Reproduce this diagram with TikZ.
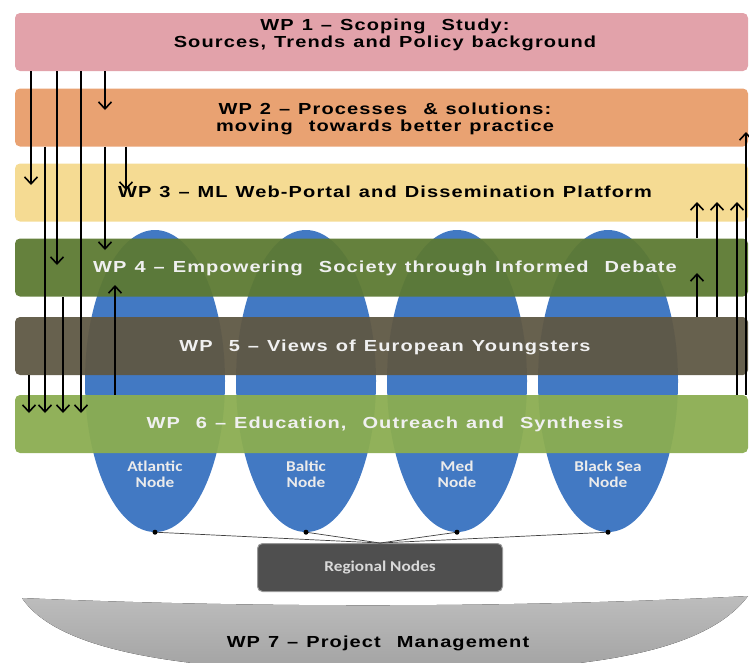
\documentclass[tikz,border=0pt]{standalone}
\usepackage{fontspec}
\usepackage{tikz}
\usetikzlibrary{arrows.meta,shapes.geometric}
\newfontfamily\wpfont{Liberation Sans}[FakeStretch=1.25,LetterSpace=7,WordSpace=1.2]
\newfontfamily\lblfont{Carlito}[FakeStretch=1.15]
\definecolor{wpone}{HTML}{E2A2AA}
\definecolor{wptwo}{HTML}{E9A272}
\definecolor{wpthree}{HTML}{F5DB93}
\definecolor{wpfour}{HTML}{5D7A33}
\definecolor{wpfive}{HTML}{5F5844}
\definecolor{wpsix}{HTML}{8BAD51}
\definecolor{seablue}{HTML}{4279C3}
\definecolor{regdark}{HTML}{4F4F4F}
\definecolor{mgmtlight}{HTML}{BDBDBD}
\definecolor{mgmtdark}{HTML}{A2A2A2}
\tikzset{
  band/.style={rectangle,rounded corners=5pt,minimum width=733pt,minimum height=58pt,inner sep=0pt},
  wptext/.style={font=\wpfont\bfseries\fontsize{16}{17}\selectfont,align=center,inner sep=0pt},
  sea/.style={ellipse,fill=seablue,minimum width=140pt,minimum height=302pt,inner sep=0pt},
  sealabel/.style={font=\lblfont\bfseries\fontsize{15}{16}\selectfont,text=white!92!black,align=center,inner sep=0pt},
  regbox/.style={rectangle,rounded corners=5pt,fill=regdark,draw=gray!80,line width=1pt,minimum width=245pt,minimum height=48pt,
    font=\lblfont\bfseries\fontsize{15}{16}\selectfont,text=white!85!black},
  link/.style={line width=0.7pt,black!75},
  arr/.style={-{Straight Barb[length=7pt,width=13pt]},line width=1.6pt}
}
\begin{document}
\begin{tikzpicture}[x=1pt,y=-1pt]
\useasboundingbox (0,0) rectangle (749,662);
% regional seas behind the lower packages
\node[sea] (atl) at (155,381) {};
\node[sea] (bal) at (306,381) {};
\node[sea] (med) at (457,381) {};
\node[sea] (blk) at (608,381) {};
\node[sealabel] (atllbl) at (155,474) {Atlantic\\Node};
\node[sealabel] (ballbl) at (306,474) {Baltic\\Node};
\node[sealabel] (medlbl) at (457,474) {Med\\Node};
\node[sealabel] (blklbl) at (608,474) {Black Sea\\Node};
% work packages
\node[band,fill=wpone] (wp1) at (381.5,42) {};
\node[band,fill=wptwo] (wp2) at (381.5,117.5) {};
\node[band,fill=wpthree] (wp3) at (381.5,192.5) {};
\node[band,fill=wpfour,fill opacity=0.95] (wp4) at (381.5,267.5) {};
\node[band,fill=wpfive,fill opacity=0.95] (wp5) at (381.5,346) {};
\node[band,fill=wpsix,fill opacity=0.95] (wp6) at (381.5,424) {};
\node[wptext] (wp1t) at (385,35) {WP 1 – Scoping \ Study:\\Sources, Trends and Policy background};
\node[wptext] (wp2t) at (385,119) {WP 2 – Processes \ \& solutions:\\moving \ towards better practice};
\node[wptext] (wp3t) at (385,192) {WP 3 – ML Web-Portal and Dissemination Platform};
\node[wptext,text=white!94!black] (wp4t) at (385,268) {WP 4 – Empowering \ Society through Informed \ Debate};
\node[wptext,text=white!94!black] (wp5t) at (385,347) {WP \ 5 – Views of European Youngsters};
\node[wptext,text=white!94!black] (wp6t) at (385,424) {WP \ 6 – Education, \ Outreach and \ Synthesis};
% regional nodes
\node[regbox] (reg) at (380,567.5) {Regional Nodes};
\foreach \s in {atl,bal,med,blk}{
  \draw[link] (\s.south) -- (reg.north);
  \fill (\s.south) circle (2.5pt);
}
% project management
\fill[top color=mgmtlight,bottom color=mgmtdark] (22,598) .. controls (250,608) and (520,608) .. (748,596)
  .. controls (700,660) and (560,672) .. (380,672) .. controls (200,672) and (60,655) .. (22,598);
\node[wptext] (wp7t) at (378,643) {WP 7 – Project \ Management};
% flows down
\draw[arr] (31,0 |- wp1.south) -- (31,185);
\draw[arr] (57,0 |- wp1.south) -- (57,265);
\draw[arr] (81,0 |- wp1.south) -- (81,413);
\draw[arr] (105,0 |- wp1.south) -- (105,110);
\draw[arr] (45,0 |- wp2.south) -- (45,413);
\draw[arr] (105,0 |- wp2.south) -- (105,250);
\draw[arr] (126,0 |- wp2.south) -- (126,190);
\draw[arr] (63,0 |- wp4.south) -- (63,413);
\draw[arr] (29,0 |- wp5.south) -- (29,413);
% flows up
\draw[arr] (115,0 |- wp6.north) -- (115,285);
\draw[arr] (697,0 |- wp4.north) -- (697,202);
\draw[arr] (697,0 |- wp5.north) -- (697,273);
\draw[arr] (717,0 |- wp5.north) -- (717,202);
\draw[arr] (737,0 |- wp6.north) -- (737,202);
\draw[arr] (746,0 |- wp6.north) -- (746,132);
\end{tikzpicture}
\end{document}
